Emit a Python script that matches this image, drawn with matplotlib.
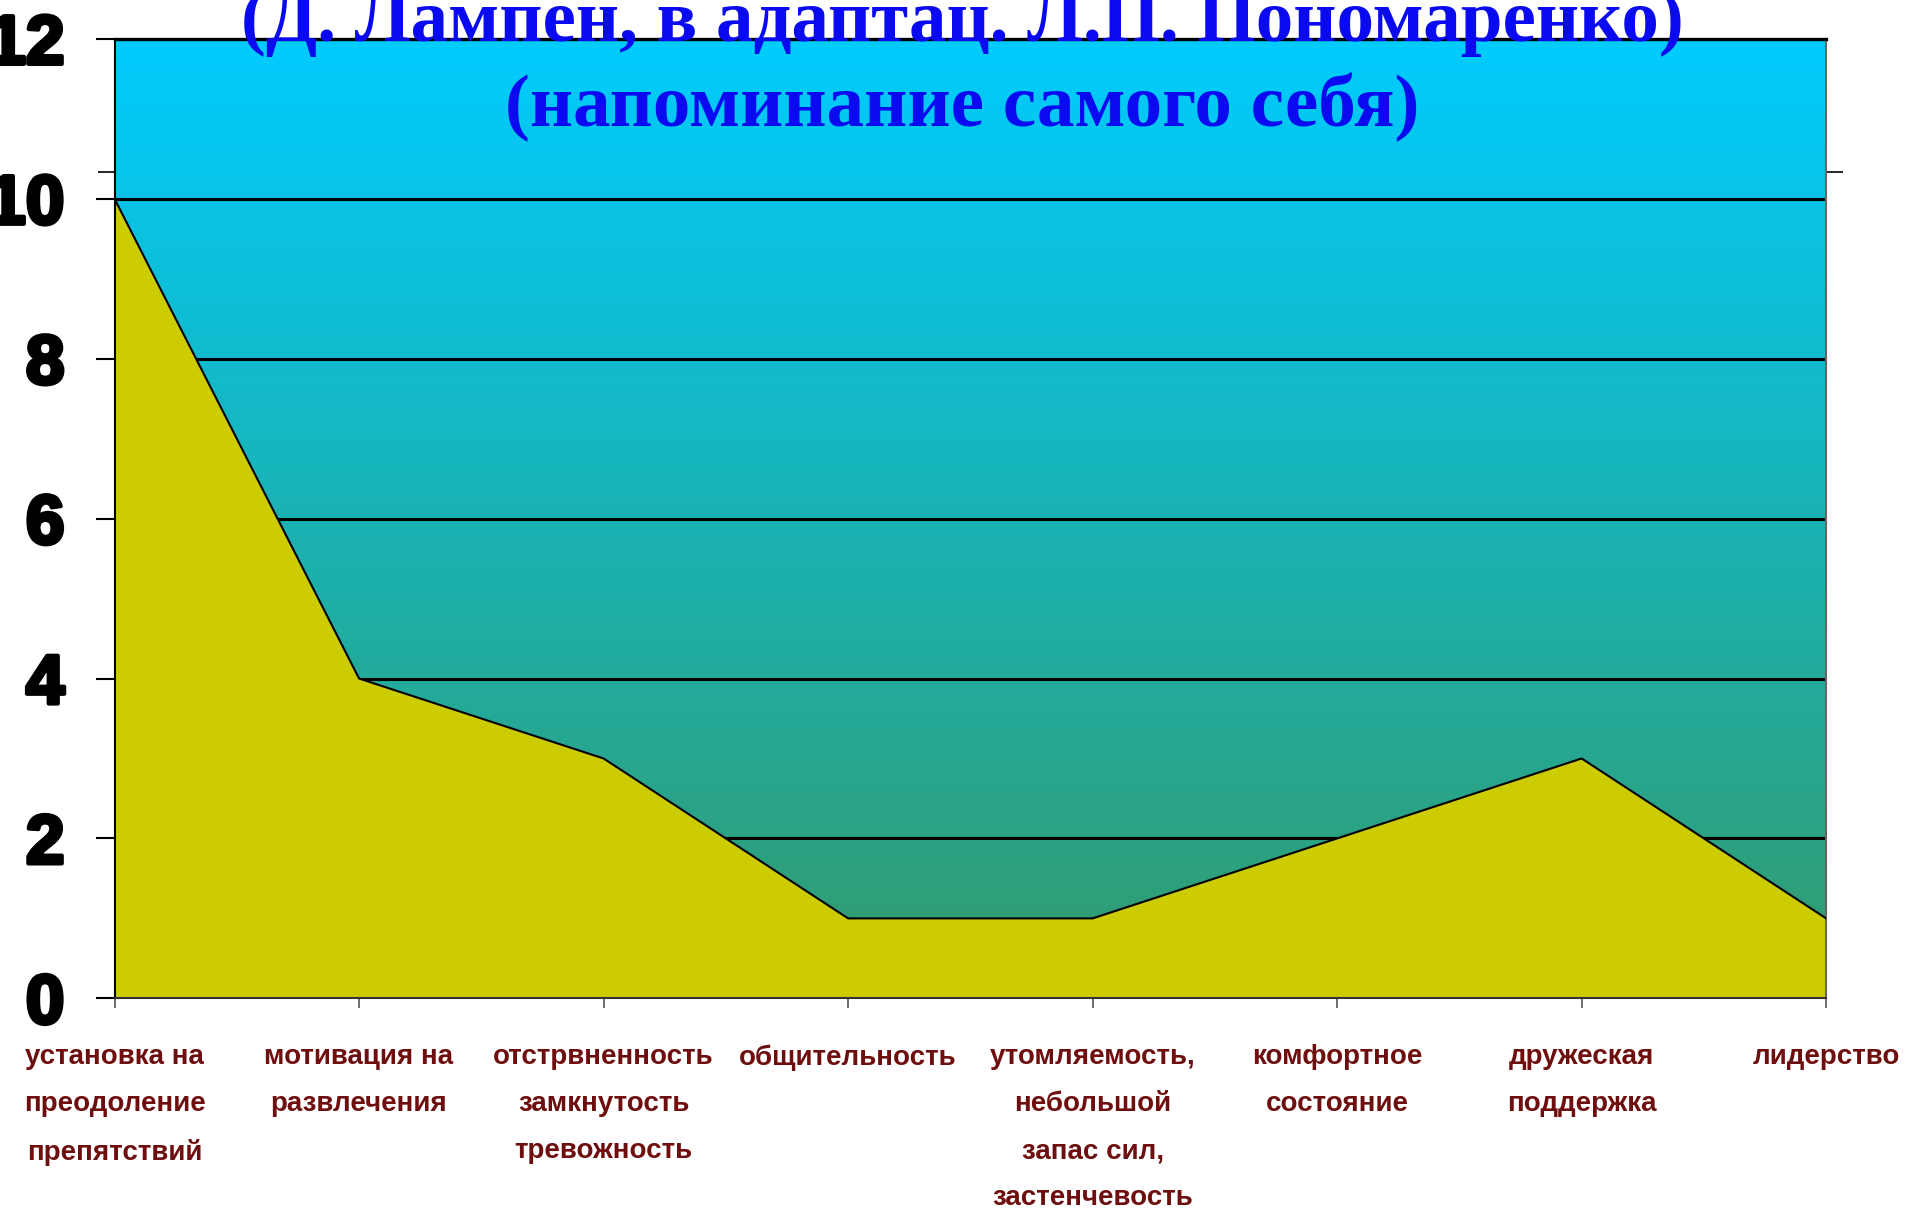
import numpy as np
import matplotlib
matplotlib.use('Agg')
import matplotlib.pyplot as plt
import matplotlib.patheffects as pe
from matplotlib.colors import LinearSegmentedColormap

# --- data ---
categories = [
    'установка на\nпреодоление\nпрепятствий',
    'мотивация на\nразвлечения',
    'отстрвненность\nзамкнутость\nтревожность',
    'общительность',
    'утомляемость,\nнебольшой\nзапас сил,\nзастенчевость',
    'комфортное\nсостояние',
    'дружеская\nподдержка',
    'лидерство',
]
values = [10, 4, 3, 1, 1, 2, 3, 1]
y_ticks = [0, 2, 4, 6, 8, 10, 12]

title_line1 = '(Д. Лампен, в адаптац. Л.П. Пономаренко)'
title_line2 = '(напоминание самого себя)'

sans = ['Liberation Sans', 'DejaVu Sans']
serif = ['Liberation Serif', 'DejaVu Serif']

fig = plt.figure(figsize=(19.09, 12.16), dpi=100)
ax = fig.add_axes([0.06, 0.179, 0.8966, 0.789])

x = np.arange(len(categories))

# background gradient, bright cyan at the top to sea green at the bottom
grad = LinearSegmentedColormap.from_list('bg', ['#349a6b', '#00ccff'])
ax.imshow(np.linspace(0, 1, 256)[:, None], extent=[0, len(categories) - 1, 0, 12],
          origin='lower', aspect='auto', cmap=grad, zorder=0)

ax.fill_between(x, values, 0, color='#cccc00', linewidth=0, zorder=2)
ax.plot(x, values, color='black', lw=1.5, zorder=3)

ax.set_xlim(0, len(categories) - 1)
ax.set_ylim(0, 12)
ax.set_yticks(y_ticks)
ax.set_axisbelow(True)
ax.yaxis.grid(True, color='black', lw=2.2)

ax.set_xticks(x)
ax.set_xticklabels(categories, fontsize=20, fontweight='bold', color='#6e0e0e',
                   family=sans, linespacing=2.05, ha='center')
ax.tick_params(axis='x', length=7, width=1.2, color='#555555', pad=26)
ax.tick_params(axis='y', length=14, width=1.5, color='black', pad=22)
for lab in ax.get_yticklabels():
    lab.set_fontsize(50)
    lab.set_fontweight('bold')
    lab.set_family(sans)
    lab.set_path_effects([pe.withStroke(linewidth=3, foreground='black')])

# stray small ticks just above 10 on both sides
ax.set_yticks([10.33], minor=True)
ax.tick_params(axis='y', which='minor', length=12, width=1.2, color='black',
               left=True, right=True)

ax.spines['top'].set_linewidth(2.4)
ax.spines['top'].set_color('black')
ax.spines['left'].set_color('black')
ax.spines['left'].set_linewidth(1.5)
ax.spines['bottom'].set_color('#333333')
ax.spines['bottom'].set_linewidth(1.5)
ax.spines['right'].set_color('#666666')
ax.spines['right'].set_linewidth(1.5)

fig.text(0.504, 0.966, title_line1, ha='center', va='baseline', fontsize=54,
         fontweight='bold', color='#0a0af0', family=serif)
fig.text(0.504, 0.896, title_line2, ha='center', va='baseline', fontsize=54,
         fontweight='bold', color='#0a0af0', family=serif)

fig.savefig('out.png', dpi=100)
